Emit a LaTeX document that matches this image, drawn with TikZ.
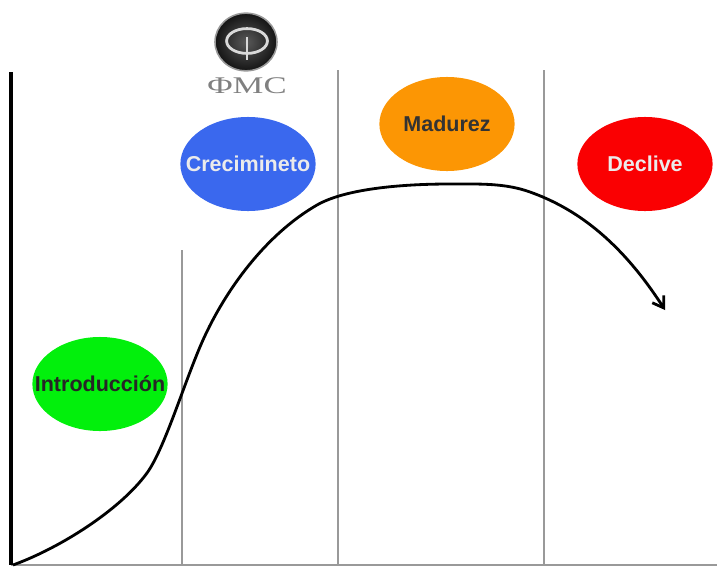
\documentclass[tikz,border=0pt]{standalone}
\usepackage{fontspec}
\setmainfont{Liberation Sans}
\newfontfamily\logofont{Liberation Serif}
\usetikzlibrary{arrows.meta,shapes.geometric}
\definecolor{introgreen}{RGB}{2,240,12}
\definecolor{growblue}{RGB}{58,104,238}
\definecolor{matorange}{RGB}{252,150,4}
\definecolor{declred}{RGB}{250,0,2}
\begin{document}
\begin{tikzpicture}[
    x=0.025cm, y=-0.025cm,
    phase/.style={ellipse, minimum width=3.38cm, minimum height=2.35cm, inner sep=0pt},
    phasetext/.style={font=\bfseries\fontsize{15.3}{15.3}\selectfont},
    divider/.style={draw=black!40, line width=0.9pt}
]
    \useasboundingbox (0,0) rectangle (717,566);
    % Phases
    \node[phase, fill=introgreen, label={[phasetext, text=black!85]center:Introducción}] (intro) at (100,384) {};
    \node[phase, fill=growblue, label={[phasetext, text=white!92!black]center:Crecimineto}] (grow) at (248,164) {};
    \node[phase, fill=matorange, label={[phasetext, text=black!80]center:Madurez}] (mature) at (447,124) {};
    \node[phase, fill=declred, label={[phasetext, text=white!92!black]center:Declive}] (decline) at (645,164) {};
    % Axes and dividers
    \coordinate (top) at (11,72);
    \coordinate (origin) at (11,565);
    \coordinate (end) at (717,565);
    \foreach \n/\x/\y in {a/182/250, b/338/70, c/544/70} {
        \coordinate (\n top) at (\x,\y);
        \coordinate (\n foot) at (\x,566);
        \draw[divider] (\n top) -- (\n foot);
    }
    \draw[divider] (origin) -- (end);
    \draw[black, line width=2.2pt] (top) -- (origin);
    % Curve
    \draw[black, line width=2pt, -{Straight Barb[length=2.6mm, width=3.4mm]}] (13,565)
        .. controls (60,548) and (120,510) .. (147,473)
        .. controls (165,448) and (185,380) .. (203,340)
        .. controls (225,291) and (265,235) .. (317,205)
        .. controls (345,189) and (400,184) .. (450,184)
        .. controls (480,184) and (505,183) .. (530,192)
        .. controls (575,208) and (620,240) .. (665,310);
    % Logo
    \node[circle, minimum width=1.55cm, minimum height=1.55cm, inner sep=0pt, inner color=black!65, outer color=black!92, draw=black!40, line width=1.1pt, yscale=0.93] (logo) at (246,42) {};
    \node[ellipse, draw=black!15, line width=2pt, minimum width=1.02cm, minimum height=0.62cm, inner sep=0pt] (logoring) at (247,41) {};
    \coordinate (stem top) at (247,37);
    \coordinate (stem foot) at (247,60);
    \draw[black!15, line width=1.3pt] (stem top) -- (stem foot);
    \node[font=\logofont\fontsize{17}{17}\selectfont, text=black!50, xscale=1.45, inner sep=0pt] (logotext) at (247,86) {ΦMC};
\end{tikzpicture}
\end{document}
